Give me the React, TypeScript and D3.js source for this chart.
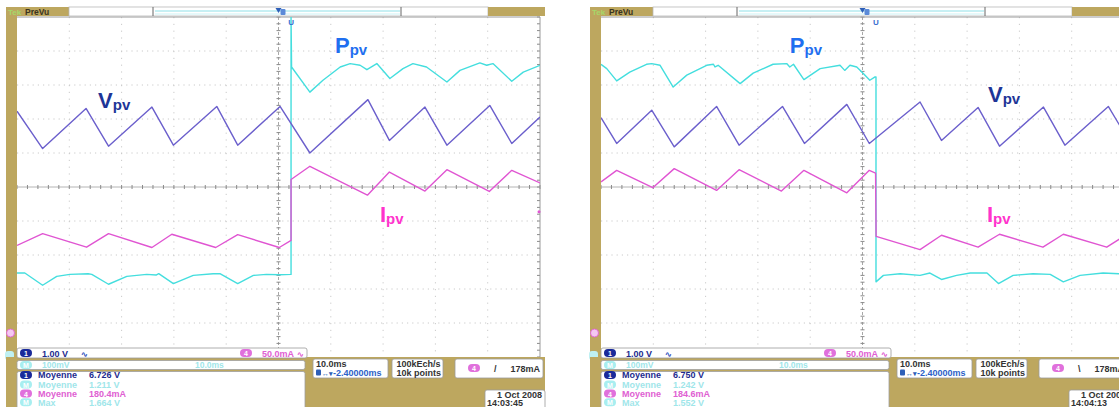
import React from "react";
import * as d3 from "d3";

type Pt = [number, number];

// time axis: ms (10 ms/div, screen -50..50 ms); vertical axis: divisions (-5..5)
const TIME_DOMAIN: [number, number] = [-50, 50];
const DIV_DOMAIN: [number, number] = [-5, 5];

const L_VPV: Pt[] = [[-50, 2.23], [-45.1, 1.13], [-36.8, 2.31], [-32.5, 1.2], [-24.2, 2.35], [-20.1, 1.23], [-11.8, 2.37], [-7.8, 1.23], [0.3, 2.37], [6.0, 1.0], [17.1, 2.57], [21.2, 1.37], [28.0, 2.35], [32.2, 1.23], [40.4, 2.4], [44.6, 1.28], [50, 2.06]];
const L_IPV: Pt[] = [[-50, -1.72], [-45.1, -1.37], [-36.7, -1.77], [-32.5, -1.37], [-24.2, -1.78], [-20.4, -1.39], [-12.0, -1.78], [-7.8, -1.4], [0.15, -1.78], [2.4, -1.57], [2.4, 0.22], [6.0, 0.61], [17.0, -0.24], [21.2, 0.44], [28.0, -0.12], [32.2, 0.51], [40.3, -0.13], [44.6, 0.49], [50, 0.12]];
const L_PPV: Pt[] = [[-50, -2.53], [-48.5, -2.53], [-45.1, -2.89], [-42.4, -2.63], [-39.9, -2.57], [-36.4, -2.55], [-35.7, -2.57], [-32.5, -2.86], [-29.0, -2.63], [-25.2, -2.57], [-23.4, -2.59], [-22.9, -2.55], [-20.1, -2.84], [-16.3, -2.6], [-12.5, -2.55], [-11.2, -2.55], [-7.8, -2.84], [-4.8, -2.6], [-2.3, -2.57], [0.15, -2.58], [2.4, -2.57], [2.4, 4.99], [2.5, 3.53], [6.0, 2.79], [8.5, 3.14], [11.8, 3.53], [13.7, 3.63], [15.6, 3.58], [16.9, 3.45], [18.8, 3.63], [21.3, 3.19], [23.8, 3.48], [25.7, 3.63], [28.3, 3.53], [32.2, 3.09], [34.7, 3.43], [38.5, 3.65], [39.8, 3.58], [41.0, 3.63], [44.6, 3.11], [46.8, 3.38], [50, 3.58]];

const R_VPV: Pt[] = [[-50, 2.04], [-47.0, 1.28], [-40.3, 2.26], [-36.0, 1.18], [-27.9, 2.37], [-23.6, 1.23], [-15.3, 2.37], [-11.1, 1.28], [-3.0, 2.43], [1.3, 1.28], [11.0, 2.5], [15.1, 1.37], [22.1, 2.34], [26.2, 1.2], [34.6, 2.35], [38.7, 1.23], [47.0, 2.37], [50, 1.6]];
const R_IPV: Pt[] = [[-50, 0.15], [-47.0, 0.49], [-40.1, -0.02], [-36.0, 0.54], [-27.9, -0.1], [-23.6, 0.51], [-15.5, -0.12], [-11.2, 0.49], [-3.0, -0.17], [1.3, 0.49], [2.5, 0.41], [2.6, -1.45], [11.0, -1.84], [15.1, -1.42], [22.1, -1.77], [26.2, -1.39], [34.5, -1.77], [38.4, -1.39], [46.7, -1.77], [50, -1.45]];
const R_PPV: Pt[] = [[-50, 3.61], [-48.9, 3.48], [-47.0, 3.12], [-44.5, 3.38], [-41.3, 3.61], [-40.3, 3.63], [-38.7, 3.58], [-36.2, 2.94], [-33.6, 3.29], [-29.8, 3.58], [-28.5, 3.61], [-28.2, 3.53], [-27.6, 3.58], [-23.4, 3.04], [-20.9, 3.35], [-17.1, 3.61], [-14.5, 3.63], [-13.9, 3.53], [-13.2, 3.61], [-11.2, 3.16], [-8.1, 3.48], [-4.3, 3.58], [-3.4, 3.43], [-2.4, 3.58], [-1.1, 3.53], [0.15, 3.34], [1.4, 3.14], [2.4, 3.24], [2.58, 3.24], [2.58, -2.79], [4.0, -2.6], [7.2, -2.55], [11.0, -2.6], [12.9, -2.53], [15.1, -2.72], [18.0, -2.6], [20.6, -2.53], [23.8, -2.53], [26.0, -2.84], [28.8, -2.6], [32.6, -2.55], [35.9, -2.57], [38.4, -2.79], [41.6, -2.6], [46.0, -2.53], [49.0, -2.55], [50, -2.55]];

const CH_SCALES = ["1.00 V", "50.0mA", "100mV"];
const TIMEBASE = "10.0ms";
const DELAY = "-2.40000ms";
const SAMPLING = ["100kEch/s", "10k points"];
const TRIG_LEVEL = "178mA";
const MEAS_NAMES = ["Moyenne", "Moyenne", "Moyenne", "Max"];
const L_MEAS = ["6.726 V", "1.211 V", "180.4mA", "1.664 V"];
const R_MEAS = ["6.750 V", "1.242 V", "184.6mA", "1.552 V"];
const L_DATE = ["1 Oct  2008", "14:03:45"];
const R_DATE = ["1 Oct  2008", "14:04:13"];

const GOLD = "#bda75f";
const C_V = "#6b5fcc";
const C_I = "#e055d2";
const C_P = "#44dede";
const T_BLUE = "#1c2a8e";
const T_CYAN = "#9fe6ea";
const T_MAG = "#e060d2";
const FONT = "'Liberation Sans', Arial, sans-serif";

interface PanelProps {
  ox: number;
  vpv: Pt[];
  ipv: Pt[];
  ppv: Pt[];
  meas: string[];
  date: string[];
  rising: boolean;
  lab: { v: Pt; p: Pt; i: Pt };
  trigT: number;
  id: string;
}

function Badge({ x, y, fill, label, color }: { x: number; y: number; fill: string; label: string; color: string }) {
  return (
    <g>
      <rect x={x} y={y - 4} width={12} height={8} rx={4} fill={fill} />
      <text x={x + 6} y={y + 3} fontSize={7} fontWeight="bold" fill={color} textAnchor="middle" fontFamily={FONT}>{label}</text>
    </g>
  );
}

function Panel({ ox, vpv, ipv, ppv, meas, date, rising, lab, trigT, id }: PanelProps) {
  const gx0 = 17 + ox, gx1 = 540 + ox, gy0 = 17, gy1 = 357;
  const x = d3.scaleLinear().domain(TIME_DOMAIN).range([gx0, gx1]);
  const y = d3.scaleLinear().domain(DIV_DOMAIN).range([gy1, gy0]);
  const line = d3.line<Pt>().x((d) => x(d[0])).y((d) => y(d[1]));
  const vLines = d3.range(-40, 50, 10).filter((t) => t !== 0);
  const hLines = d3.range(-4, 5, 1).filter((v) => v !== 0);
  const tTicks = d3.range(-50, 50.01, 2);
  const vTicks = d3.range(-5, 5.01, 0.2);
  const px0 = 6 + ox, px1 = 545 + ox;
  const lblStyle = { fontFamily: FONT, fontWeight: 700 as const };
  const txt = { fontFamily: FONT, fontWeight: 700 as const, fontSize: 9 };

  return (
    <g>
      <defs>
        <clipPath id={`clip-${id}`}>
          <rect x={gx0} y={gy0} width={gx1 - gx0} height={gy1 - gy0} />
        </clipPath>
      </defs>
      {/* screen */}
      <rect x={px0} y={7} width={px1 - px0} height={400} fill="#fff" />
      {/* grid */}
      {vLines.map((t) => (
        <line key={`v${t}`} x1={x(t)} x2={x(t)} y1={gy0} y2={gy1} stroke="#cacaca" strokeWidth={1} strokeDasharray="1.2 5.6" />
      ))}
      {hLines.map((v) => (
        <line key={`h${v}`} x1={gx0} x2={gx1} y1={y(v)} y2={y(v)} stroke="#cacaca" strokeWidth={1} strokeDasharray="1.2 4" />
      ))}
      <line x1={gx0} x2={gx1} y1={y(0)} y2={y(0)} stroke="#b4b4b4" strokeWidth={1} />
      <line x1={x(0)} x2={x(0)} y1={gy0} y2={gy1} stroke="#a8a8a8" strokeWidth={1} strokeDasharray="3 2" />
      {tTicks.map((t) => (
        <line key={`tt${t}`} x1={x(t)} x2={x(t)} y1={y(0) - 2} y2={y(0) + 2} stroke="#8a8a8a" strokeWidth={1} />
      ))}
      {vTicks.map((v) => (
        <g key={`vt${v}`}>
          <line x1={x(0) - 2} x2={x(0) + 2} y1={y(v)} y2={y(v)} stroke="#8a8a8a" strokeWidth={1} />
          <line x1={gx1 - 3} x2={gx1} y1={y(v)} y2={y(v)} stroke="#8a8a8a" strokeWidth={1} />
        </g>
      ))}
      <line x1={gx0} x2={gx1} y1={gy0} y2={gy0} stroke="#9a9a9a" strokeWidth={1} />
      <line x1={gx1} x2={gx1} y1={gy0} y2={gy1} stroke="#9a9a9a" strokeWidth={1} />

      {/* traces */}
      <g clipPath={`url(#clip-${id})`} fill="none" strokeWidth={1.4} strokeLinejoin="round">
        <path d={line(ppv) || ""} stroke={C_P} />
        <path d={line(vpv) || ""} stroke={C_V} />
        <path d={line(ipv) || ""} stroke={C_I} />
      </g>

      {/* trigger markers */}
      <text x={x(trigT)} y={25} fontSize={8} fontWeight="bold" fill="#3b6fd0" textAnchor="middle" fontFamily={FONT}>U</text>
      <circle cx={gx1 - 1} cy={211.7} r={1.5} fill={C_I} />

      {/* labels */}
      <text x={x(lab.v[0])} y={y(lab.v[1])} fill="#1e3597" fontSize={22} {...lblStyle}>
        V<tspan fontSize={15} dy={2}>pv</tspan>
      </text>
      <text x={x(lab.p[0])} y={y(lab.p[1])} fill="#1f6ff0" fontSize={22} {...lblStyle}>
        P<tspan fontSize={15} dy={2}>pv</tspan>
      </text>
      <text x={x(lab.i[0])} y={y(lab.i[1])} fill="#ff33cc" fontSize={22} {...lblStyle}>
        I<tspan fontSize={15} dy={2}>pv</tspan>
      </text>

      {/* left gold bar */}
      <rect x={px0} y={7} width={gx0 - px0} height={400} fill={GOLD} />
      <circle cx={px0 + 4.5} cy={333} r={4} fill="#f4c8f0" stroke={C_I} strokeWidth={0.8} />
      <rect x={px0 - 1} y={351} width={9} height={9} rx={3} fill="#bff0f2" />

      {/* top bar */}
      <rect x={px0} y={7} width={63} height={9} fill={GOLD} />
      <text x={px0 + 2} y={14.5} fontSize={8} fill="#a6d86a" fontFamily={FONT} fontWeight="bold">Tek</text>
      <text x={px0 + 19} y={14.5} fontSize={8.5} fill="#3a3420" fontFamily={FONT} fontWeight="bold">PreVu</text>
      <rect x={69 + ox} y={7} width={419} height={9} fill="#fff" stroke="#b8b8b8" strokeWidth={0.8} />
      <line x1={153 + ox} x2={153 + ox} y1={7} y2={16} stroke="#666" strokeWidth={1} />
      <line x1={401 + ox} x2={401 + ox} y1={7} y2={16} stroke="#666" strokeWidth={1} />
      <line x1={155 + ox} x2={400 + ox} y1={11} y2={11} stroke="#8fe0e8" strokeWidth={1} />
      <line x1={155 + ox} x2={400 + ox} y1={14} y2={14} stroke="#bfeff2" strokeWidth={0.8} />
      <rect x={488 + ox} y={7} width={px1 - 488 - ox} height={9} fill={GOLD} />
      <path d={`M${x(0) - 3},8 L${x(0) + 3},8 L${x(0)},13 Z`} fill="#2d5fb8" />
      <rect x={x(0) + 2} y={9} width={5} height={6} rx={1} fill="#5b8ad8" />

      {/* bottom area */}
      <rect x={px0} y={357} width={px1 - px0} height={50} fill={GOLD} />
      <rect x={gx0} y={348} width={290} height={10} rx={2} fill="#fff" stroke="#9a9a9a" strokeWidth={0.8} />
      <Badge x={20 + ox} y={353} fill="#1a2a9a" label="1" color="#fff" />
      <text x={42 + ox} y={356.5} {...txt} fill={T_BLUE}>{CH_SCALES[0]}</text>
      <text x={81 + ox} y={356.5} {...txt} fill="#3455c0" fontSize={8}>∿</text>
      <Badge x={240 + ox} y={353} fill="#e070dc" label="4" color="#fff" />
      <text x={262 + ox} y={356.5} {...txt} fill={T_MAG}>{CH_SCALES[1]}</text>
      <text x={297 + ox} y={356.5} {...txt} fill={T_MAG} fontSize={8}>∿</text>

      <rect x={gx0} y={360.5} width={288} height={9} rx={2} fill="#fff" stroke="#a0a0a0" strokeWidth={0.8} />
      <Badge x={20 + ox} y={365} fill="#a8eef0" label="M" color="#fff" />
      <text x={42 + ox} y={368.3} {...txt} fontSize={8.5} fill={T_CYAN}>{CH_SCALES[2]}</text>
      <text x={195 + ox} y={368.3} {...txt} fontSize={8.5} fill={T_CYAN}>{TIMEBASE}</text>

      <rect x={gx0} y={371.5} width={288} height={40} rx={2} fill="#fff" stroke="#a0a0a0" strokeWidth={0.8} />
      {meas.map((m, i) => {
        const cy = [375, 384.5, 393.5, 402.3][i];
        const col = i === 0 ? T_BLUE : i === 2 ? T_MAG : T_CYAN;
        const bf = i === 0 ? "#1a2a9a" : i === 2 ? "#e070dc" : "#a8eef0";
        const bl = i === 0 ? "1" : i === 2 ? "4" : "M";
        return (
          <g key={i}>
            <Badge x={20 + ox} y={cy} fill={bf} label={bl} color="#fff" />
            <text x={38 + ox} y={cy + 3.2} {...txt} fill={col}>{MEAS_NAMES[i]}</text>
            <text x={89 + ox} y={cy + 3.2} {...txt} fill={col}>{m}</text>
          </g>
        );
      })}

      <rect x={313 + ox} y={359} width={75} height={19} rx={2} fill="#fff" stroke="#9a9a9a" strokeWidth={0.8} />
      <text x={316 + ox} y={366.5} {...txt} fill="#333">{TIMEBASE}</text>
      <rect x={316 + ox} y={369.5} width={5} height={6} rx={1} fill="#2d5fb8" />
      <text x={322 + ox} y={375.5} {...txt} fontSize={7} fill="#2d5fb8">↔▾</text>
      <text x={333 + ox} y={375.5} {...txt} fill="#2d5fc8">{DELAY}</text>

      <rect x={392 + ox} y={359} width={51} height={19} rx={2} fill="#fff" stroke="#9a9a9a" strokeWidth={0.8} />
      <text x={396.5 + ox} y={366.5} {...txt} fill="#333">{SAMPLING[0]}</text>
      <text x={396.5 + ox} y={375.5} {...txt} fill="#333">{SAMPLING[1]}</text>

      <rect x={455 + ox} y={359} width={88} height={19} rx={2} fill="#fff" stroke="#9a9a9a" strokeWidth={0.8} />
      <Badge x={468 + ox} y={368} fill="#e070dc" label="4" color="#fff" />
      <text x={494 + ox} y={371.5} {...txt} fill="#333">{rising ? "/" : "\\"}</text>
      <text x={540 + ox} y={371.5} {...txt} fill="#333" textAnchor="end">{TRIG_LEVEL}</text>

      <rect x={485 + ox} y={390} width={60} height={20} rx={2} fill="#fff" stroke="#9a9a9a" strokeWidth={0.8} />
      <text x={542 + ox} y={398} {...txt} fill="#333" textAnchor="end">{date[0]}</text>
      <text x={487 + ox} y={406} {...txt} fill="#333">{date[1]}</text>
    </g>
  );
}

export default function App() {
  return (
    <svg width={1119} height={407} style={{ position: "absolute", left: 0, top: 0, background: "#fff" }}>
      <Panel id="l" ox={0} vpv={L_VPV} ipv={L_IPV} ppv={L_PPV} meas={L_MEAS} date={L_DATE} rising={true}
        lab={{ v: [-34.5, 2.31], p: [10.8, 3.93], i: [19.4, -1.04] }} trigT={2.4} />
      <Panel id="r" ox={584} vpv={R_VPV} ipv={R_IPV} ppv={R_PPV} meas={R_MEAS} date={R_DATE} rising={false}
        lab={{ v: [24.0, 2.51], p: [-13.9, 3.95], i: [23.8, -1.04] }} trigT={2.58} />
    </svg>
  );
}
